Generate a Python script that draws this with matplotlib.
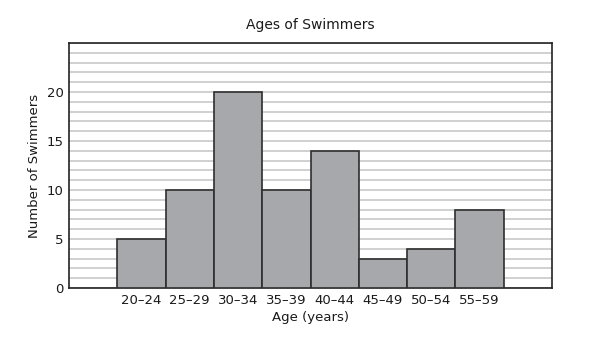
import matplotlib
matplotlib.use('Agg')
import matplotlib.pyplot as plt
import numpy as np

plt.rcParams['font.family'] = ['DejaVu Sans']

# data
age_groups = ['20–24', '25–29', '30–34', '35–39', '40–44', '45–49', '50–54', '55–59']
swimmers = [5, 10, 20, 10, 14, 3, 4, 8]

BAR_COLOR = '#a7a8ac'
EDGE_COLOR = '#2e2e2e'
GRID_COLOR = '#d0d0d0'
TEXT_COLOR = '#1a1a1a'

fig = plt.figure(figsize=(6.04, 3.37), dpi=100)
ax = fig.add_axes([0.1142, 0.1454, 0.7998, 0.727])

x = np.arange(len(age_groups))
ax.bar(x, swimmers, width=1.0, color=BAR_COLOR, edgecolor=EDGE_COLOR,
       linewidth=1.2, zorder=3)

ax.set_xlim(-1.5, 8.5)
ax.set_ylim(0, 25)
ax.set_yticks([0, 5, 10, 15, 20])
ax.set_yticks(np.arange(0, 26, 1), minor=True)
ax.set_xticks(x)
ax.set_xticklabels(age_groups)
ax.grid(axis='y', which='both', color=GRID_COLOR, linewidth=1.4, zorder=0)
ax.tick_params(axis='both', which='both', length=0, labelsize=9.5,
               colors=TEXT_COLOR, pad=4)
for s in ax.spines.values():
    s.set_color('#222222')
    s.set_linewidth(1.2)

ax.set_title('Ages of Swimmers', fontsize=10, color=TEXT_COLOR, pad=10)
ax.set_xlabel('Age (years)', fontsize=9.5, color=TEXT_COLOR, labelpad=3)
ax.set_ylabel('Number of Swimmers', fontsize=9.5, color=TEXT_COLOR, labelpad=4)

plt.savefig('out.png', dpi=100, facecolor='white')
plt.close()
